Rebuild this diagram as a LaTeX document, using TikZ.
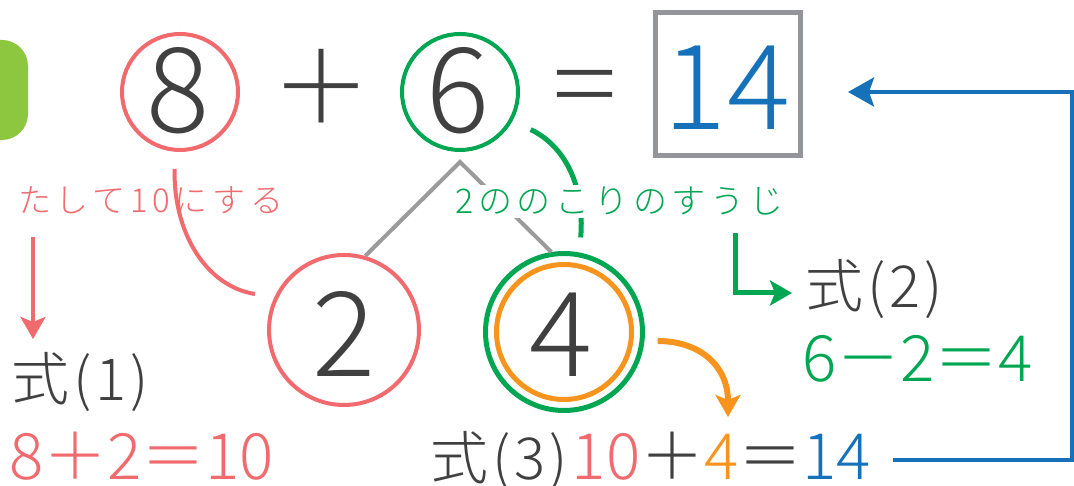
\documentclass[tikz,border=0pt]{standalone}
\usepackage{fontspec}
\IfFontExistsTF{Noto Sans CJK JP Light}{%
  \setmainfont{Noto Sans CJK JP Light}
  \newfontfamily\kanafont{Noto Sans CJK JP Light}[LetterSpace=14]
  \newfontfamily\sikifont{Noto Sans CJK JP Light}[LetterSpace=7]
}{%
  \setmainfont{Noto Sans CJK JP}
  \newfontfamily\kanafont{Noto Sans CJK JP}[LetterSpace=14]
  \newfontfamily\sikifont{Noto Sans CJK JP}[LetterSpace=7]
}
\usepackage{tikz}
\usetikzlibrary{arrows.meta,positioning,calc}

\definecolor{kred}{RGB}{240,106,110}
\definecolor{kgreen}{RGB}{0,166,81}
\definecolor{korange}{RGB}{247,148,29}
\definecolor{kblue}{RGB}{22,113,187}
\definecolor{kgray}{RGB}{147,149,152}
\definecolor{kline}{RGB}{155,155,155}
\definecolor{kdark}{RGB}{64,64,64}
\definecolor{klime}{RGB}{141,198,63}

\begin{document}
\begin{tikzpicture}[x=1pt, y=1pt,
    big/.style={inner sep=0pt, anchor=base, text=kdark, font=\fontsize{118}{120}\selectfont},
    sym/.style={big, font=\fontsize{100}{104}\selectfont},
    ring/.style={draw, circle, line width=4pt, inner sep=0pt},
    note/.style={inner sep=0pt, anchor=base west, font=\kanafont\fontsize{33}{36}\selectfont},
    siki/.style={inner sep=0pt, anchor=base west, text=kdark, font=\sikifont\fontsize{58}{60}\selectfont},
    expr/.style={inner sep=0pt, anchor=base west, font=\fontsize{64}{66}\selectfont},
    arr/.style={-{Stealth[length=22pt, width=25pt, inset=5pt]}, line width=5pt},
    branch/.style={kline, line width=4pt}
]
\fill[white] (0,0) rectangle (1074,486);
\useasboundingbox (0,0) rectangle (1074,486);
% tab on the left edge
\fill[klime, rounded corners=26pt] (-40,346) rectangle (28,446);

% top row: 8 + 6 = 14
\node[ring, draw=kred, minimum size=116] (c8) at (180,394) {};
\node[big] (n8) at (178,353) {8};
\node[sym] (pl) at (321,362) {＋};
\node[ring, draw=kgreen, minimum size=116] (c6) at (460,394) {};
\node[big] (n6) at (458,353) {6};
\node[sym] (eqs) at (585,364) {\scalebox{0.75}[1]{＝}};
\node[draw=kgray, line width=5pt, minimum width=145, minimum height=143, inner sep=0pt] (ans) at (728,402) {};
\node[big, text=kblue] (n14) at (727,356) {14};

% 6 split into 2 and 4
\node[ring, draw=kred, minimum size=150] (c2) at (344,156) {};
\node[big] (n2) at (344,109) {2};
\node[ring, draw=kgreen, line width=5pt, minimum size=157] (c4) at (564,154) {};
\node[ring, draw=korange, line width=5pt, minimum size=135] (c4i) at (564,154) {};
\node[big] (n4) at (561,109) {4};
\coordinate (top) at ($(c6)+(0,-70)$);
\draw[branch] (c2.74) -- (top) -- (c4.99);

% arcs
\draw[kred, line width=4pt] ($(c8)+(-94:77)$) .. controls (173,255) and (205,200) .. ($(c2)+(158:96)$);
\draw[kgreen, line width=5pt] ($(c6)+(-28:80)$) .. controls (565,340) and (585,300) .. ($(c4)+(80:96)$);

% notes
\node[note, text=kred] (t1) at (18,273) {たして10にする};
\node[note, text=kgreen, fill=white, inner sep=2pt, font=\kanafont\fontsize{34}{36}\selectfont] (t2) at (453,272) {2ののこりのすうじ};

% equations
\node[siki] (eq1) at (11,85) {式(1)};
\node[expr, text=kred] (ex1) at (9,6) {8＋2＝10};
\node[siki] (eq2) at (805,178) {式(2)};
\node[expr, text=kgreen] (ex2) at (802,104) {6－2＝4};
\node[expr, text=kdark] (eq3) at (430,6) {{\sikifont\fontsize{58}{60}\selectfont 式(3)}\hspace{4pt}\textcolor{kred}{10}＋\textcolor{korange}{4}＝\textcolor{kblue}{14}};

% arrows
\coordinate (a1) at (33,249);
\coordinate (a1e) at (33,147);
\draw[arr, kred, line width=4pt] (a1) -- (a1e);
\coordinate (gs) at (735,253);
\draw[arr, kgreen] (gs) |- ($(eq2.base west)+(-13,15)$);
\draw[arr, korange, line width=6pt] ($(c4)+(-5.5:94)$) .. controls (700,145) and (728,120) .. (728,69);
\coordinate (b0) at (893,26);
\draw[kblue, line width=4pt, -{Stealth[length=26pt, width=29pt, inset=5pt]}] (b0) -- ++(179,0) |- ($(ans.east)+(45,-8)$);
\end{tikzpicture}
\end{document}
